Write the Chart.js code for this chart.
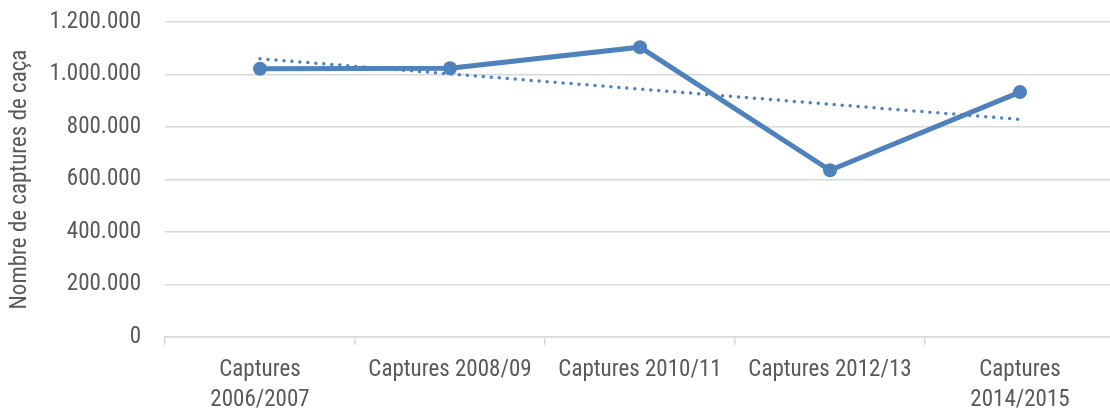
<!DOCTYPE html>
<html>
<head>
<meta charset="utf-8">
<script src="https://cdn.jsdelivr.net/npm/chart.js@4"></script>
<style>
  html, body { margin: 0; padding: 0; background: #fff; overflow: hidden; }
  #wrap { width: 1110px; height: 415px; overflow: hidden; }
</style>
</head>
<body>
<div id="wrap"><canvas id="myChart" width="1122" height="415"></canvas></div>
<script>
const periodes = [
  ["Captures", "2006/2007"],
  "Captures 2008/09",
  "Captures 2010/11",
  "Captures 2012/13",
  ["Captures", "2014/2015"]
];
const captures = [1022000, 1024000, 1104000, 635000, 933000];
// linia de tendència (només els extrems, llegits del gràfic)
const tendencia = [1060000, null, null, null, 829000];
const yTicks = [0, 200000, 400000, 600000, 800000, 1000000, 1200000];

const blau = "#4F81BD";
const gris = "#595959";
const font = "'Roboto Condensed', 'Liberation Sans', sans-serif";

function punts(n) {
  return String(n).replace(/\B(?=(\d{3})+(?!\d))/g, ".");
}

const ctx = document.getElementById("myChart");

new Chart(ctx, {
  type: "line",
  data: {
    labels: periodes,
    datasets: [
      {
        label: "Captures",
        data: captures,
        borderColor: blau,
        backgroundColor: blau,
        borderWidth: 5,
        pointRadius: 7,
        pointHoverRadius: 7,
        pointBackgroundColor: blau,
        pointBorderWidth: 0,
        tension: 0,
        order: 1,
      },
      {
        label: "Tendència",
        data: tendencia,
        spanGaps: true,
        borderColor: blau,
        borderWidth: 3.5,
        borderDash: [0, 8],
        borderCapStyle: "round",
        pointRadius: 0,
        tension: 0,
        order: 2,
      },
    ],
  },
  options: {
    responsive: false,
    animation: false,
    layout: { padding: { left: 0, right: 0, top: 22, bottom: 0 } },
    plugins: {
      legend: { display: false },
      tooltip: { enabled: false },
    },
    scales: {
      x: {
        offset: true,
        afterFit: function (scale) {
          scale.height = 78;
          scale.paddingLeft = 0;
          scale.paddingRight = 0;
        },
        border: { color: "#d9d9d9", width: 1.5 },
        grid: {
          offset: true,
          drawOnChartArea: false,
          drawTicks: true,
          tickLength: 8,
          color: "#d9d9d9",
          lineWidth: 1.5,
        },
        ticks: {
          color: gris,
          font: { family: font, size: 23, lineHeight: 1.3 },
          maxRotation: 0,
          autoSkip: false,
          padding: 10,
        },
      },
      y: {
        min: 0,
        max: 1200000,
        afterFit: function (scale) {
          scale.width = 165;
          scale.paddingTop = 0;
          scale.paddingBottom = 0;
        },
        afterBuildTicks: function (scale) {
          scale.ticks = yTicks.map(function (v) { return { value: v }; });
        },
        border: { display: false },
        grid: { color: "#d9d9d9", lineWidth: 1.5, drawTicks: false },
        ticks: {
          color: gris,
          font: { family: font, size: 23 },
          padding: 24,
          callback: function (v) { return punts(v); },
        },
        title: {
          display: true,
          text: "Nombre de captures de caça",
          color: gris,
          font: { family: font, size: 23 },
          padding: { top: 6, bottom: 0 },
        },
      },
    },
  },
});
</script>
</body>
</html>
